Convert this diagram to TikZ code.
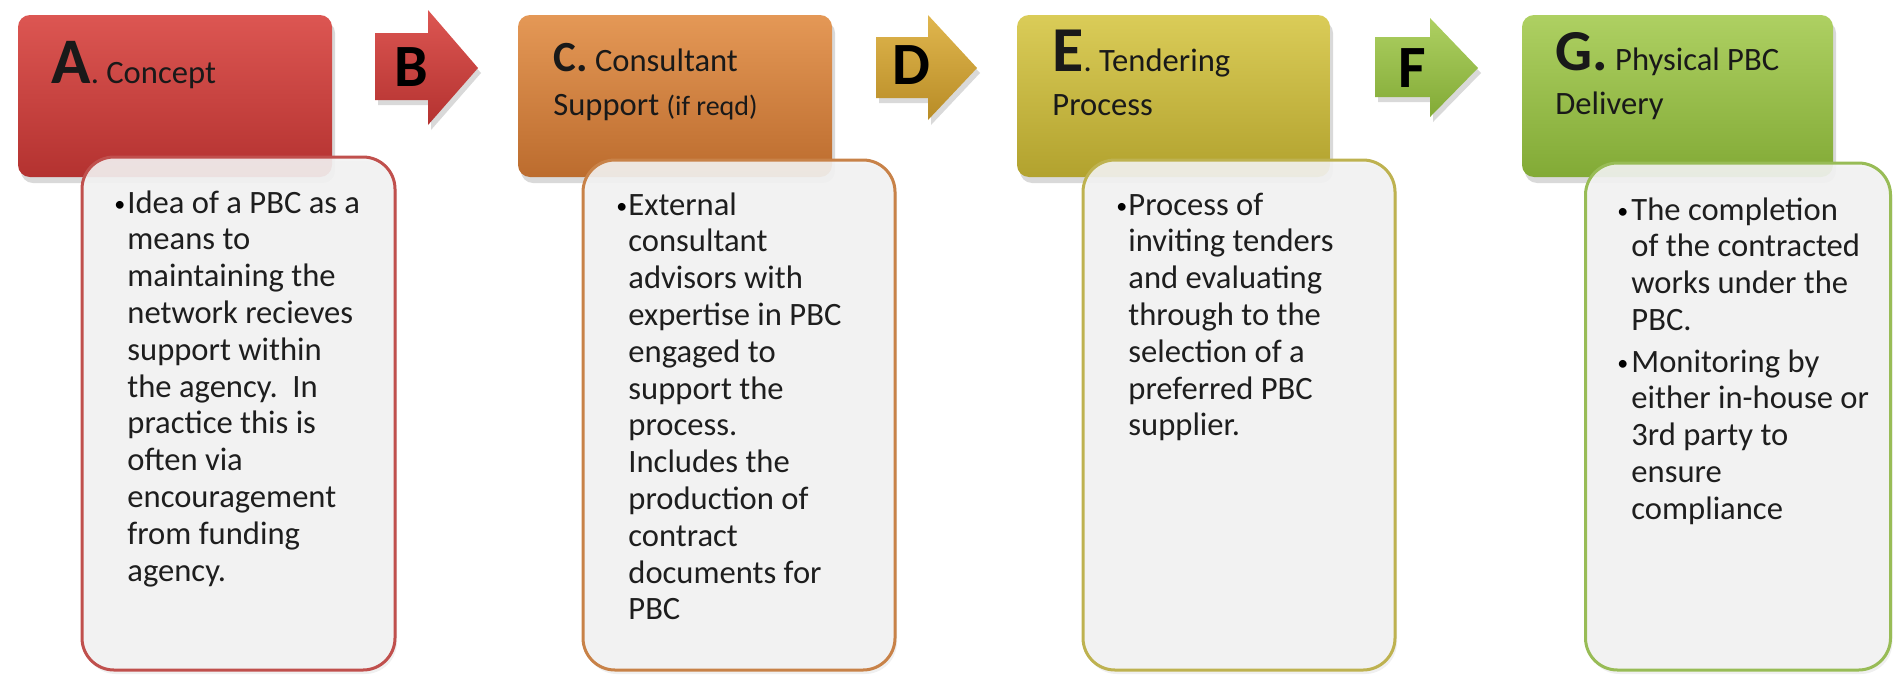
\documentclass[tikz,border=0pt]{standalone}
\usepackage{fontspec}
\setmainfont{Carlito}
\usetikzlibrary{shadows}
\definecolor{redT}{RGB}{220,86,82}
\definecolor{redM}{RGB}{202,62,60}
\definecolor{redB}{RGB}{180,50,48}
\definecolor{orgT}{RGB}{228,152,86}
\definecolor{orgM}{RGB}{210,128,62}
\definecolor{orgB}{RGB}{188,108,46}
\definecolor{yelT}{RGB}{218,204,88}
\definecolor{yelM}{RGB}{202,186,68}
\definecolor{yelB}{RGB}{178,162,46}
\definecolor{grnT}{RGB}{174,208,98}
\definecolor{grnM}{RGB}{156,192,76}
\definecolor{grnB}{RGB}{130,170,54}
\definecolor{gldT}{RGB}{224,182,78}
\definecolor{gldM}{RGB}{208,162,56}
\definecolor{gldB}{RGB}{184,140,38}
\definecolor{lineR}{RGB}{192,80,77}
\definecolor{lineO}{RGB}{200,130,72}
\definecolor{lineY}{RGB}{190,178,80}
\definecolor{lineG}{RGB}{152,188,86}
\definecolor{descfill}{RGB}{243,243,243}
\definecolor{txtcol}{RGB}{30,30,30}
\newcommand\bigletter[2]{{\fontsize{#1}{22}\selectfont\bfseries #2}}
\tikzset{
  hdr/.style={rectangle, rounded corners=6pt, inner sep=0pt,
    minimum width=157pt, minimum height=81pt,
    drop shadow={shadow xshift=1.5pt, shadow yshift=-3pt, opacity=0.3}},
  descbox/.style={rectangle, rounded corners=16pt, inner sep=0pt, line width=1.5pt,
    fill=descfill, fill opacity=0.9, minimum width=156pt, minimum height=255pt,
    drop shadow={shadow xshift=1pt, shadow yshift=-2pt, opacity=0.12}},
  txt/.style={anchor=base west, inner sep=0pt, text=txtcol,
    font=\fontsize{16.3}{18.4}\selectfont},
  blt/.style={anchor=base west, inner sep=0pt, text=black,
    font=\fontsize{11}{18.4}\selectfont},
  htxt/.style={anchor=base west, inner sep=0pt, text=black!90,
    font=\fontsize{16.3}{22}\selectfont},
  arrshape/.style={drop shadow={shadow xshift=1.5pt, shadow yshift=-2.5pt, opacity=0.3}},
  arrtxt/.style={anchor=base, inner sep=0pt, font=\fontsize{30}{30}\selectfont\bfseries}
}
\begin{document}
\begin{tikzpicture}[x=0.5pt,y=-0.5pt]
\useasboundingbox (0,0) rectangle (1893,675);

% header boxes
\node[hdr, top color=redT, middle color=redM, bottom color=redB] (hA) at (175,96) {};
\node[hdr, top color=orgT, middle color=orgM, bottom color=orgB] (hC) at (675,96) {};
\node[hdr, top color=yelT, middle color=yelM, bottom color=yelB, minimum width=156.5pt] (hE) at (1173.5,96) {};
\node[hdr, top color=grnT, middle color=grnM, bottom color=grnB, minimum width=155.5pt] (hG) at (1677.5,96) {};

% arrows
\path[arrshape, top color=redT, middle color=redM, bottom color=redB]
  (375,33) -- (428,33) -- (428,10) -- (478,68) -- (428,125) -- (428,100) -- (375,100) -- cycle;
\path[arrshape, top color=gldT, middle color=gldM, bottom color=gldB]
  (876,37) -- (928,37) -- (928,15) -- (977,68) -- (928,120) -- (928,98) -- (876,98) -- cycle;
\path[arrshape, top color=grnT, middle color=grnM, bottom color=grnB]
  (1375,37) -- (1430,37) -- (1430,18) -- (1478,68) -- (1430,117) -- (1430,97) -- (1375,97) -- cycle;
\node[arrtxt] (aB) at (411,86) {B};
\node[arrtxt] (aD) at (911,84) {D};
\node[arrtxt] (aF) at (1412,87) {F};

% header texts
\node[htxt] (tA) at (51,83) {\bigletter{32.5}{A}. Concept};
\node[htxt] (tC) at (553,71) {\parbox[t]{200pt}{\bigletter{21.5}{C.} Consultant\\Support {\fontsize{14}{22}\selectfont(if reqd)}}};
\node[htxt] (tE) at (1052,71) {\parbox[t]{200pt}{\bigletter{32}{E}. Tendering\\Process}};
\node[htxt] (tG) at (1555,70) {\parbox[t]{200pt}{\bigletter{29}{G.} Physical PBC\\Delivery}};

% description boxes
\node[descbox, draw=lineR, minimum width=156.5pt, minimum height=256.5pt] (dA) at (238.5,413.5) {};
\node[descbox, draw=lineO] (dC) at (739,415) {};
\node[descbox, draw=lineY] (dE) at (1239,415) {};
\node[descbox, draw=lineG, minimum width=152.5pt, minimum height=253.5pt] (dG) at (1738,416.5) {};

% description texts
\node[blt] (bA) at (114,211) {\textbullet};
\node[txt] (xA) at (127,213) {\parbox[t]{170pt}{\raggedright Idea of a PBC as a\\means to\\maintaining the\\network recieves\\support within\\the agency.~~In\\practice this is\\often via\\encouragement\\from funding\\agency.}};

\node[blt] (bC) at (616,213) {\textbullet};
\node[txt] (xC) at (628,215) {\parbox[t]{170pt}{\raggedright External\\consultant\\advisors with\\expertise in PBC\\engaged to\\support the\\process.\\Includes the\\production of\\contract\\documents for\\PBC}};

\node[blt] (bE) at (1116,213) {\textbullet};
\node[txt] (xE) at (1128,215) {\parbox[t]{170pt}{\raggedright Process of\\inviting tenders\\and evaluating\\through to the\\selection of a\\preferred PBC\\supplier.}};

\node[blt] (bG1) at (1617,218) {\textbullet};
\node[txt] (xG1) at (1631,220) {\parbox[t]{170pt}{\raggedright The completion\\of the contracted\\works under the\\PBC.}};
\node[blt] (bG2) at (1617,370) {\textbullet};
\node[txt] (xG2) at (1631,372) {\parbox[t]{170pt}{\raggedright Monitoring by\\either in-house or\\3rd party to\\ensure\\compliance}};
\end{tikzpicture}
\end{document}
